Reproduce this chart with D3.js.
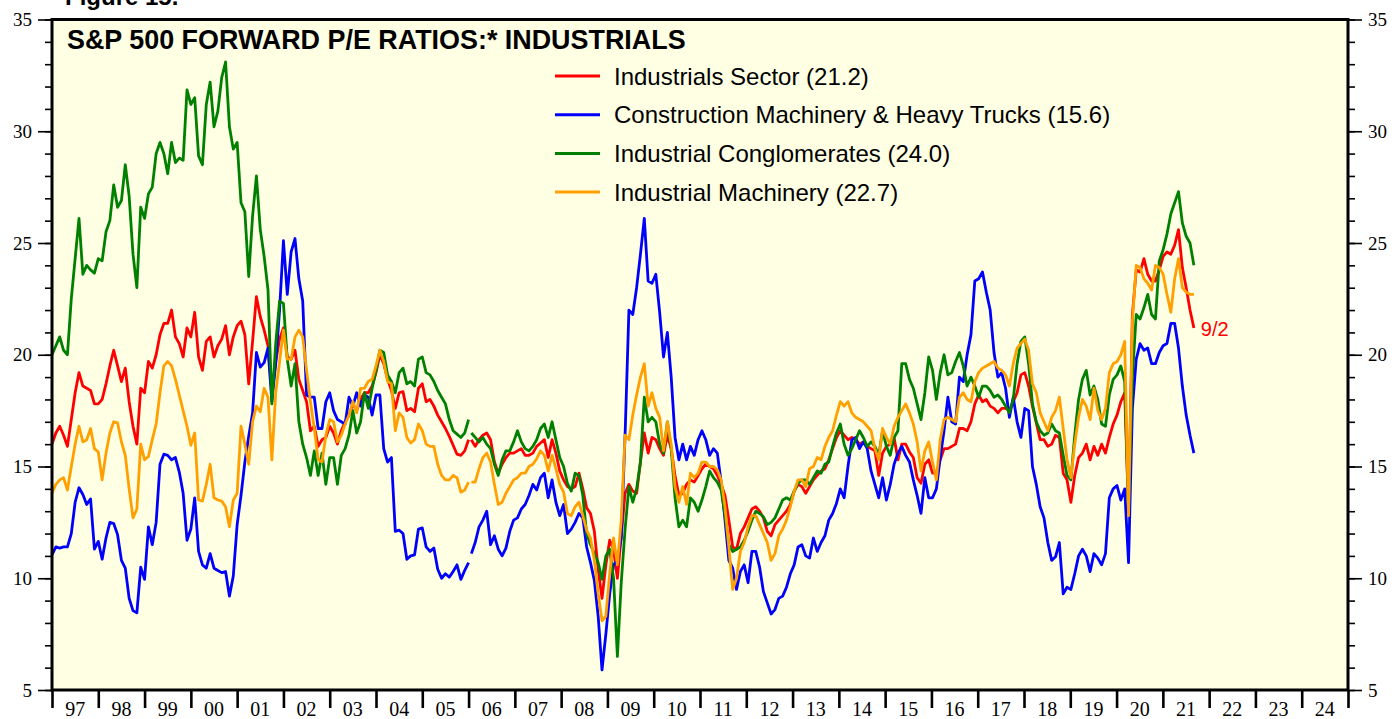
<!DOCTYPE html>
<html>
<head>
<meta charset="utf-8">
<script src="https://cdn.jsdelivr.net/npm/d3@7"></script>
<style>
  body { margin: 0; background: #ffffff; }
  svg { display: block; }
</style>
</head>
<body>
<svg width="1395" height="719"></svg>
<script>
// Forward P/E, monthly readings. "Early" runs Jan 1997 - Jan 2006,
// "Late" runs Jan 2006 - 9/2/2021 (the two sources don't join up).
const earlyStart = 1997.0;
const lateStart = 2006.06;
const lateEnd = 2021.67;

const sectorEarly = [
  16.0,16.5,16.8,16.4,15.9,17.1,18.3,19.2,18.6,18.5,18.4,17.8,
  17.8,18.0,18.7,19.5,20.2,19.5,18.8,19.4,17.9,16.8,16.0,18.5,
  18.3,19.7,19.4,20.0,20.9,21.4,21.4,22.0,20.8,20.5,19.9,21.2,
  20.8,21.9,19.9,19.3,20.6,20.8,19.9,20.4,20.7,21.3,20.0,20.8,
  21.3,21.5,20.9,18.7,20.6,22.6,21.7,21.1,20.4,18.3,19.7,20.7,
  21.2,19.9,19.8,20.2,18.9,18.4,17.9,16.6,16.8,15.9,16.2,16.3,
  16.8,16.5,16.0,16.6,17.0,17.3,17.8,17.5,18.0,18.3,18.3,18.6,
  19.2,20.0,19.6,18.9,18.4,17.6,18.3,18.35,17.5,17.6,17.45,18.5,
  18.7,17.9,18.0,17.7,17.3,17.0,16.7,16.35,15.95,15.55,15.5,15.7,
  16.2
];
const sectorLate = [
  16.2,15.9,16.2,16.4,16.5,16.2,15.2,14.7,15.1,15.4,15.6,15.6,
  15.7,15.8,15.5,15.5,15.6,15.9,16.05,16.2,15.4,16.2,15.6,14.8,
  14.4,14.1,14.0,14.1,14.7,14.0,13.15,12.9,12.1,10.4,9.1,10.6,
  11.7,11.3,10.0,11.9,13.8,14.2,13.9,13.8,15.2,16.5,15.6,16.3,
  16.2,15.8,15.5,16.4,15.8,14.6,13.7,13.8,14.2,14.4,14.3,14.6,
  14.9,15.1,15.0,14.9,14.6,14.2,13.7,12.6,11.4,11.3,12.0,12.3,
  12.7,13.1,13.2,13.0,12.7,12.1,11.9,12.4,12.6,12.8,13.0,13.3,
  13.9,14.2,14.1,13.8,14.1,14.4,14.6,14.8,14.9,15.3,15.8,16.3,
  16.6,16.4,16.2,16.3,16.2,16.0,16.1,15.9,15.8,15.7,14.6,15.6,
  15.9,16.0,16.3,15.3,16.0,16.0,15.65,15.4,14.5,14.25,15.1,15.3,
  14.7,14.7,15.3,15.8,15.8,15.9,16.0,16.7,16.7,16.6,17.0,17.8,
  18.2,17.9,18.0,17.7,17.6,17.4,17.6,17.6,17.5,17.9,18.3,19.1,
  19.2,18.6,17.7,16.95,16.2,16.2,15.9,16.0,16.4,16.3,14.7,14.4,
  13.4,14.6,15.4,15.6,16.0,15.3,15.9,15.5,16.0,15.6,16.3,16.9,
  17.3,17.9,18.3,13.0,21.8,23.8,23.7,24.3,23.6,23.3,23.3,23.8,
  24.4,24.6,24.5,24.9,25.6,23.9,23.0,22.0,21.2
];

const constructionEarly = [
  11.05,11.4,11.35,11.4,11.4,12.0,13.4,14.05,13.75,13.3,13.55,11.3,
  11.65,10.85,11.8,12.5,12.45,11.95,10.8,10.45,9.1,8.55,8.45,10.5,
  9.95,12.3,11.5,12.5,15.1,15.55,15.5,15.3,15.4,14.75,13.8,11.7,
  12.2,13.6,11.2,10.6,10.45,11.1,10.45,10.35,10.25,10.3,9.2,10.1,
  12.4,13.7,15.2,16.35,17.4,20.1,19.45,19.65,20.3,17.9,19.6,22.0,
  25.1,22.7,24.6,25.2,23.4,22.4,18.2,18.1,18.1,16.7,16.7,17.9,
  18.3,17.5,17.1,17.0,16.9,18.1,17.7,18.3,17.7,18.2,18.1,17.3,
  18.2,18.2,15.8,15.2,15.4,12.1,12.15,12.0,10.85,11.0,11.05,12.2,
  12.25,11.4,11.2,11.35,10.4,10.0,10.2,10.05,10.3,10.6,9.95,10.35,
  10.7
];
const constructionLate = [
  11.1,11.6,12.3,12.6,13.0,11.5,11.9,11.3,11.0,11.35,12.1,12.6,
  12.7,13.1,13.3,13.7,14.2,13.95,14.5,14.7,13.6,14.4,13.4,12.8,
  13.3,12.0,12.2,12.5,12.9,12.7,11.4,10.7,9.9,8.3,5.9,7.5,
  9.3,10.6,10.8,11.8,16.4,22.0,21.8,23.0,24.5,26.1,23.3,23.2,
  23.6,21.9,19.9,21.0,19.0,16.3,15.3,16.0,15.3,15.9,15.5,16.2,
  16.6,16.2,15.5,15.8,15.6,14.3,12.6,10.8,10.45,9.5,10.3,10.6,
  9.8,11.2,11.2,10.5,9.4,8.9,8.4,8.6,9.1,9.2,9.6,10.2,
  10.6,11.4,11.5,11.0,10.9,11.8,11.2,11.6,11.9,12.6,12.9,13.35,
  14.0,13.6,15.0,16.2,16.3,15.8,16.1,15.8,14.8,14.2,13.6,14.5,
  13.5,14.2,15.1,15.6,15.9,15.5,15.2,14.4,13.7,12.9,14.5,13.6,
  13.6,14.0,15.4,16.6,18.1,17.0,16.9,19.0,18.8,20.0,20.9,23.3,
  23.4,23.7,22.8,22.0,20.1,19.0,19.2,18.5,17.2,18.1,17.0,16.3,
  17.6,17.5,15.0,14.2,13.2,12.7,11.6,10.8,10.96,11.6,9.3,9.6,
  9.5,10.2,11.0,11.3,11.0,10.3,11.1,10.9,10.6,11.1,13.6,14.0,
  14.15,13.5,14.0,10.7,17.6,19.8,20.5,20.2,20.3,19.6,19.6,20.1,
  20.4,20.5,21.4,21.4,20.3,18.6,17.3,16.4,15.6
];

const conglomEarly = [
  20.0,20.4,20.8,20.2,20.0,22.5,24.3,26.1,23.6,24.0,23.8,23.65,
  24.3,24.2,25.5,26.0,27.6,26.6,26.9,28.5,27.1,24.5,23.0,26.6,
  26.1,27.2,27.5,29.0,29.5,29.0,28.1,29.5,28.6,28.8,28.7,31.85,
  31.2,31.5,28.9,28.5,31.2,32.2,30.2,30.9,32.4,33.1,30.2,29.2,
  29.5,26.8,26.4,23.5,26.2,28.0,25.6,24.4,22.9,17.8,20.5,22.4,
  22.3,19.8,18.6,19.6,17.0,16.0,15.4,14.6,15.7,14.6,15.6,14.2,
  15.4,15.4,14.2,15.5,15.8,16.4,17.5,16.5,17.0,18.3,17.6,18.5,
  19.3,20.2,20.1,19.1,18.8,18.3,19.2,19.4,18.7,18.8,18.6,19.8,
  19.9,19.2,19.1,18.8,18.4,18.1,17.8,17.1,16.6,16.45,16.3,16.5,
  17.1
];
const conglomLate = [
  16.5,16.3,16.1,16.3,16.0,15.8,15.1,14.6,15.3,15.7,15.7,16.1,
  16.6,16.1,15.8,15.7,15.9,16.2,16.7,16.9,16.3,17.0,16.2,15.4,
  15.0,14.25,13.9,14.7,14.6,13.7,12.0,11.5,11.1,10.7,9.95,11.0,
  11.3,10.0,6.5,9.8,12.2,14.1,13.4,14.0,15.2,18.1,17.0,17.2,
  17.0,16.0,15.6,17.0,15.8,13.6,12.3,12.6,12.3,13.6,13.4,13.0,
  13.5,14.1,14.8,14.5,14.3,13.95,12.8,11.5,11.2,11.3,11.4,11.7,
  12.1,12.6,13.0,12.9,12.75,12.4,12.5,12.7,13.1,13.5,13.6,13.5,
  13.9,14.25,14.4,14.4,14.2,14.5,14.8,14.7,15.1,15.2,15.9,16.5,
  16.9,16.0,15.5,15.8,16.2,16.6,16.3,15.9,16.1,15.9,15.5,16.6,
  15.9,15.5,16.3,16.6,19.6,19.6,18.9,18.5,17.8,17.1,18.3,19.9,
  19.3,18.0,19.2,20.0,19.1,19.2,19.7,20.1,19.5,18.6,19.0,18.6,
  18.1,18.6,18.6,18.4,18.1,18.2,18.0,17.7,17.4,18.0,19.6,20.6,
  20.8,19.6,17.8,17.0,16.6,16.4,16.5,16.9,16.6,16.5,15.5,14.6,
  14.4,16.4,18.0,18.9,19.3,18.2,18.6,18.0,16.9,16.8,18.2,18.9,
  19.1,19.5,18.8,13.0,19.0,21.8,21.6,22.1,22.7,21.8,21.6,24.2,
  24.7,25.4,26.3,26.8,27.3,25.9,25.3,25.0,24.0
];

const machineryEarly = [
  13.8,14.2,14.4,14.5,13.95,15.0,16.0,16.8,16.1,16.2,16.7,15.8,
  15.65,14.4,15.6,16.5,17.0,16.95,16.1,15.5,14.0,12.7,13.1,16.0,
  15.3,15.45,16.2,16.9,18.3,19.5,19.7,19.5,18.9,18.2,17.5,16.8,
  15.95,16.5,13.5,13.45,14.2,15.1,13.6,13.5,13.45,13.2,12.3,13.5,
  13.8,16.8,16.0,15.1,17.0,17.7,17.45,18.5,18.1,15.3,18.3,19.7,
  21.1,19.8,19.8,20.8,21.1,20.8,19.3,17.9,16.7,15.3,15.2,16.4,
  17.1,17.0,16.1,16.4,16.9,17.3,17.9,17.4,18.5,18.5,18.8,18.9,
  19.5,20.2,19.7,18.8,18.7,16.6,17.4,17.2,16.3,16.05,16.2,16.9,
  16.6,16.0,15.9,15.9,15.1,14.6,14.4,14.4,14.6,14.5,13.85,13.95,
  14.3
];
const machineryLate = [
  14.3,14.3,14.9,15.4,15.6,15.2,14.2,13.3,13.4,13.8,14.1,14.4,
  14.5,14.7,14.7,15.0,15.1,15.35,15.7,15.5,14.8,15.5,14.9,14.2,
  13.85,12.9,12.8,13.2,13.4,12.8,12.15,11.8,10.8,9.3,8.1,8.3,
  10.2,11.8,10.6,12.6,16.4,16.2,17.3,18.2,19.0,19.6,17.7,18.3,
  17.6,17.2,15.7,17.0,16.0,14.1,13.4,14.1,13.3,14.7,14.5,14.7,
  15.2,15.2,15.0,15.0,14.85,14.4,13.2,11.4,9.5,10.0,11.2,11.6,
  12.3,12.8,12.8,12.4,12.0,11.6,10.8,11.1,11.9,12.2,12.6,13.2,
  13.9,14.4,14.4,14.1,14.9,15.0,15.4,15.3,15.9,16.3,16.6,17.3,
  17.9,17.7,17.9,17.4,17.2,17.1,17.0,16.8,16.6,15.8,15.3,16.7,
  16.3,16.0,16.8,17.2,17.5,17.8,17.4,16.9,16.1,14.8,15.7,16.1,
  15.2,14.4,16.2,17.1,17.2,17.1,17.0,18.1,18.3,18.0,17.9,18.8,
  19.2,19.4,19.5,19.6,19.7,19.4,19.3,19.1,18.6,19.6,20.3,20.5,
  20.7,20.2,18.7,18.3,17.4,17.0,16.6,17.2,17.5,18.1,16.7,15.3,
  14.5,16.0,17.2,18.0,17.7,17.1,18.5,17.5,17.1,17.6,19.2,19.6,
  19.7,20.0,20.6,12.8,21.5,24.0,23.9,23.4,23.2,22.9,24.0,23.9,
  23.6,22.7,21.9,23.4,24.3,23.0,22.8,22.7,22.7
];

const seriesNames = [
  "Industrials Sector (21.2)",
  "Construction Machinery & Heavy Trucks (15.6)",
  "Industrial Conglomerates (24.0)",
  "Industrial Machinery (22.7)"
];
const seriesColors = ["#ff0000", "#0000ff", "#008000", "#ffa000"];
const yearLabels = ["97","98","99","00","01","02","03","04","05","06","07",
  "08","09","10","11","12","13","14","15","16","17","18","19","20","21",
  "22","23","24"];
const yTicks = [5, 10, 15, 20, 25, 30, 35];

function toPoints(values, start, end) {
  // Spread readings evenly between start and end (fractional years).
  const step = (end - start) / (values.length - 1);
  return values.map((v, i) => ({ t: start + i * step, v: v }));
}

function initGraph() {
  const svg = d3.select("svg");
  const margin = { top: 19.5, right: 47, bottom: 29, left: 52 };
  const width = +svg.attr("width") - margin.left - margin.right;
  const height = +svg.attr("height") - margin.top - margin.bottom;

  const content = svg.append("g")
    .attr("transform", "translate(" + margin.left + "," + margin.top + ")");

  content.append("rect")
    .attr("width", width)
    .attr("height", height)
    .attr("fill", "#ffffe3");

  return {
    svg: svg,
    content: content,
    width: width,
    height: height,
    xScale: d3.scaleLinear().domain([1997, 2025]).range([0, width]),
    yScale: d3.scaleLinear().domain([5, 35]).range([height, 0])
  };
}

function drawYAxes(graph) {
  const { content, yScale, width } = graph;
  const serif = "'Liberation Serif', 'Times New Roman', serif";

  [[d3.axisLeft, 0], [d3.axisRight, width]].forEach(([axisFn, x]) => {
    // Minor ticks every point, majors every five with labels.
    content.append("g")
      .attr("transform", "translate(" + x + ",0)")
      .call(axisFn(yScale).tickValues(d3.range(5, 36)).tickSize(7).tickFormat(""))
      .call(g => g.select(".domain").remove());

    content.append("g")
      .attr("transform", "translate(" + x + ",0)")
      .call(axisFn(yScale).tickValues(yTicks).tickSize(14).tickPadding(6))
      .call(g => g.select(".domain").remove())
      .call(g => g.selectAll("text")
        .style("font-family", serif)
        .style("font-size", "19px")
        .attr("fill", "#000"));
  });

  content.selectAll(".tick line")
    .attr("stroke", "#000")
    .attr("stroke-width", 1.6);
}

function drawXAxis(graph) {
  const { content, xScale, height } = graph;

  const axis = content.append("g")
    .attr("transform", "translate(0," + height + ")")
    .call(d3.axisBottom(xScale).tickValues(d3.range(1997, 2026)).tickSize(18).tickFormat(""))
    .call(g => g.select(".domain").remove());
  axis.selectAll(".tick line")
    .attr("stroke", "#000")
    .attr("stroke-width", 2.6);

  content.append("g")
    .selectAll("text")
    .data(yearLabels)
    .enter()
    .append("text")
    .attr("x", (d, i) => xScale(1997 + i + 0.5))
    .attr("y", height + 25.5)
    .attr("text-anchor", "middle")
    .style("font-family", "'Liberation Serif', 'Times New Roman', serif")
    .style("font-size", "20px")
    .text(d => d);
}

function drawSeries(graph) {
  const { content, xScale, yScale } = graph;
  const line = d3.line()
    .x(d => xScale(d.t))
    .y(d => yScale(d.v));

  const series = [
    [sectorEarly, sectorLate],
    [constructionEarly, constructionLate],
    [conglomEarly, conglomLate],
    [machineryEarly, machineryLate]
  ];

  series.forEach((pair, i) => {
    const parts = [
      toPoints(pair[0], earlyStart, lateStart - 0.06),
      toPoints(pair[1], lateStart, lateEnd)
    ];
    parts.forEach(pts => {
      content.append("path")
        .datum(pts)
        .attr("fill", "none")
        .attr("stroke", seriesColors[i])
        .attr("stroke-width", 2.8)
        .attr("stroke-linejoin", "round")
        .attr("d", line);
    });
  });

  // Date label at the end of the sector line.
  const last = sectorLate[sectorLate.length - 1];
  content.append("text")
    .attr("x", xScale(lateEnd) + 7)
    .attr("y", yScale(last) + 8)
    .attr("fill", "#ff0000")
    .style("font-family", "'Liberation Sans', Arial, sans-serif")
    .style("font-size", "20px")
    .text("9/2");
}

function drawFrame(graph) {
  graph.content.append("rect")
    .attr("width", graph.width)
    .attr("height", graph.height)
    .attr("fill", "none")
    .attr("stroke", "#000")
    .attr("stroke-width", 3);
}

function drawLegend(graph) {
  const legend = graph.svg.append("g")
    .attr("transform", "translate(555,76)");

  const rows = legend.selectAll("g")
    .data(seriesNames)
    .enter()
    .append("g")
    .attr("transform", (d, i) => "translate(0," + i * 38.7 + ")");

  rows.append("line")
    .attr("x1", 0)
    .attr("x2", 45)
    .attr("stroke", (d, i) => seriesColors[i])
    .attr("stroke-width", 3);

  rows.append("text")
    .attr("x", 59)
    .attr("y", 8.5)
    .style("font-family", "'Liberation Sans', Arial, sans-serif")
    .style("font-size", "24px")
    .text(d => d);
}

function drawTitles(graph) {
  graph.svg.append("text")
    .attr("x", 65)
    .attr("y", 5)
    .style("font-family", "'Liberation Sans', Arial, sans-serif")
    .style("font-weight", "bold")
    .style("font-size", "24px")
    .text("Figure 15.");

  graph.svg.append("text")
    .attr("x", 67)
    .attr("y", 48.5)
    .style("font-family", "'Liberation Sans', Arial, sans-serif")
    .style("font-weight", "bold")
    .style("font-size", "26.9px")
    .text("S&P 500 FORWARD P/E RATIOS:* INDUSTRIALS");
}

window.addEventListener("load", function() {
  const graph = initGraph();
  drawSeries(graph);
  drawFrame(graph);
  drawYAxes(graph);
  drawXAxis(graph);
  drawLegend(graph);
  drawTitles(graph);
});
</script>
</body>
</html>
